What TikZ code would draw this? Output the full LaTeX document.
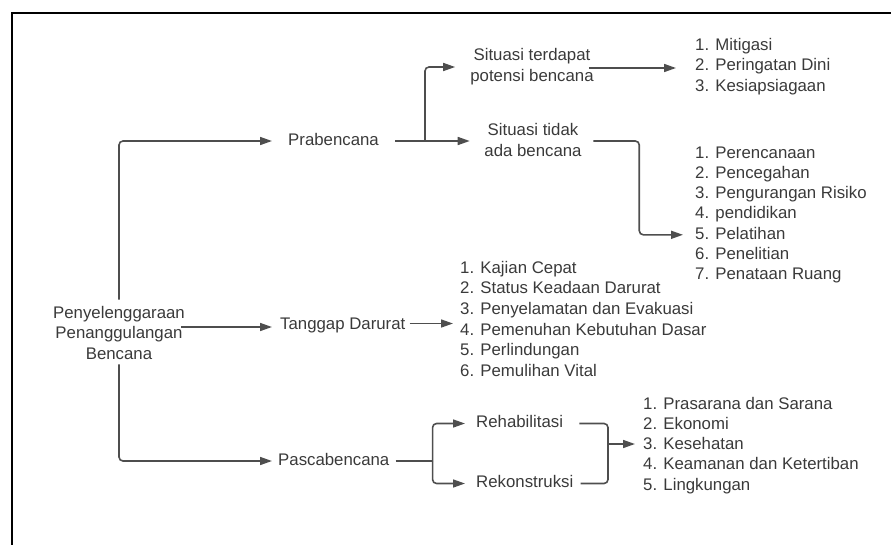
\documentclass[tikz,border=0pt]{standalone}
\usepackage{fontspec}
\setmainfont{Liberation Sans}
\usetikzlibrary{arrows.meta,calc}
\definecolor{txt}{HTML}{3A3A3A}
\definecolor{ln}{HTML}{4E4E4E}
\begin{document}
\begin{tikzpicture}[x=1pt,y=-1pt,
  lbl/.style={inner sep=0pt,text=txt,font=\fontsize{16.8}{20.5}\selectfont,text height=12.6pt,text depth=4.2pt},
  mlbl/.style={inner sep=0pt,text=txt,font=\fontsize{16.8}{20.5}\selectfont,align=center},
  conn/.style={draw=ln,line width=1.6pt,rounded corners=4pt},
  arr/.style={conn,-{Triangle[length=12pt,width=8pt]}}]
\useasboundingbox (0,0) rectangle (891,544);
\clip (0,0) rectangle (891,544);
\draw[line width=2pt,black] (12.3,560) -- (12.3,13) -- (900,13);

% nodes
\node[mlbl] (root) at (119,332.5) {Penyelenggaraan\\Penanggulangan\\Bencana};
\node[lbl,anchor=west] (prab) at (288,141) {Prabencana};
\node[lbl,anchor=west] (tang) at (280,325) {Tanggap Darurat};
\node[lbl,anchor=west] (pasc) at (278,461) {Pascabencana};
\node[mlbl] (sit1) at (532,66.5) {Situasi terdapat\\potensi bencana};
\node[mlbl] (sit2) at (533,140) {Situasi tidak\\ada bencana};
\node[lbl,anchor=west] (rehab) at (476,423.5) {Rehabilitasi};
\node[lbl,anchor=west] (rekon) at (476,483.5) {Rekonstruksi};

\foreach \t [count=\i] in {1. Mitigasi,2. Peringatan Dini,3. Kesiapsiagaan}
  \node[lbl,anchor=west] (l1-\i) at (695,46+20.5*\i-20.5) {\t};
\foreach \t [count=\i] in {1. Perencanaan,2. Pencegahan,3. Pengurangan Risiko,4. pendidikan,5. Pelatihan,6. Penelitian,7. Penataan Ruang}
  \node[lbl,anchor=west] (l2-\i) at (695,154+20.2*\i-20.2) {\t};
\foreach \t [count=\i] in {1. Kajian Cepat,2. Status Keadaan Darurat,3. Penyelamatan dan Evakuasi,4. Pemenuhan Kebutuhan Dasar,5. Perlindungan,6. Pemulihan Vital}
  \node[lbl,anchor=west] (l3-\i) at (460,269+20.6*\i-20.6) {\t};
\foreach \t [count=\i] in {1. Prasarana dan Sarana,2. Ekonomi,3. Kesehatan,4. Keamanan dan Ketertiban,5. Lingkungan}
  \node[lbl,anchor=west] (l4-\i) at (643,405+20.2*\i-20.2) {\t};

% connectors from root
\draw[arr] ($(root.north)+(0,-6)$) |- ($(prab.west)+(-16,0)$);
\draw[arr] ($(root.east)+(-4,-5.5)$) -- ($(root.east -| tang.west)+(-8,-5.5)$);
\draw[arr] ($(root.south)+(0,5)$) |- ($(pasc.west)+(-6,0)$);

% prabencana branch
\coordinate (pb) at ($(prab.east)+(46,0)$);
\draw[conn] ($(prab.east)+(16,0)$) -- (pb);
\draw[arr] (pb) |- ($(sit1.west)+(-15,0.5)$);
\draw[arr] (pb) -- ($(pb -| sit2.west)+(-14.5,0)$);
\draw[arr] ($(sit1.east)+(-5,1.5)$) -- ($(sit1.east -| l1-2.west)+(-19,1.5)$);
\draw[arr] ($(sit2.east)+(11.5,1)$) -- ++(46,0) |- ($(l2-5.west)+(-12,0)$);

% tanggap darurat
\draw[arr] ($(tang.east)+(4,-1.5)$) -- ($(tang.east -| l3-1.west)+(-7,-1.5)$);

% pascabencana branch
\coordinate (qb) at ($(pasc.east)+(43,0)$);
\draw[conn] ($(pasc.east)+(6,0)$) -- (qb);
\draw[arr] (qb) |- ($(rehab.west)+(-11,0)$);
\draw[arr] (qb) |- ($(rekon.west)+(-11,0)$);
\coordinate (bk) at (608,444);
\draw[conn] ($(rehab.east)+(16,0)$) -| (bk) |- ($(rekon.east)+(7,0)$);
\draw[arr] (bk) -- ($(bk -| l4-3.west)+(-8,0)$);
\end{tikzpicture}
\end{document}
